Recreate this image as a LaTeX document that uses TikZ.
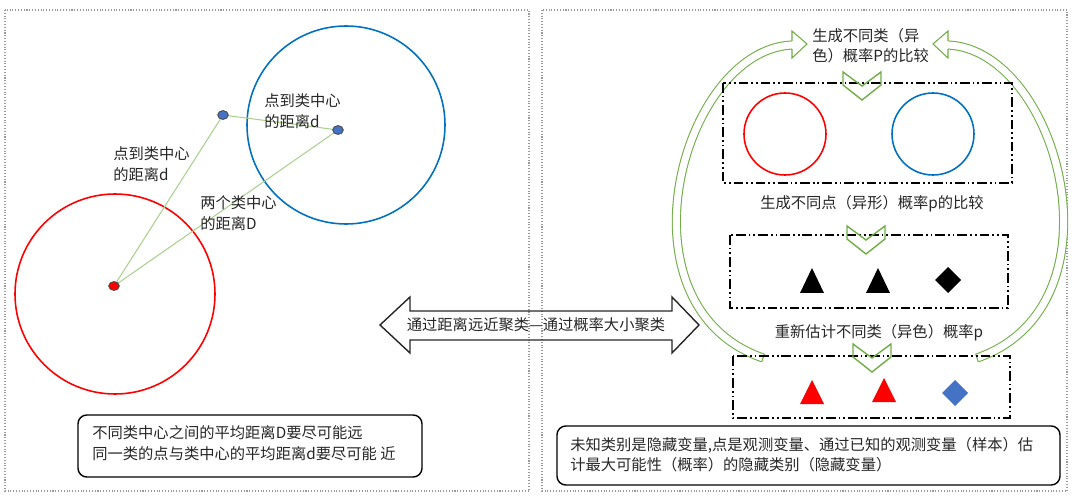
\documentclass[tikz,border=0pt]{standalone}
\usepackage{fontspec}
\setmainfont{Noto Sans CJK SC}
\usepackage{tikz}
\usetikzlibrary{calc,positioning,shapes.geometric}
\definecolor{hongse}{HTML}{FF0000}
\definecolor{lanse}{HTML}{0070C0}
\definecolor{dianlan}{HTML}{4472C4}
\definecolor{qianlv}{HTML}{A9D18E}
\definecolor{lvse}{HTML}{70AD47}
\definecolor{wenzi}{HTML}{262626}

\tikzset{
  panel/.style={draw=gray!80,densely dotted,line width=0.6pt},
  dashbox/.style={draw=black,line width=1pt,
    dash pattern=on 5.5pt off 1.7pt on 1pt off 1.7pt on 1pt off 1.7pt},
  notebox/.style={draw=black,rounded corners=5pt,line width=0.8pt},
  txt/.style={font=\fontsize{8.7}{11.6}\selectfont,text=wenzi,inner sep=0pt,align=left},
  rdot/.style={ellipse,draw=black!70,fill=hongse,line width=0.5pt,
    minimum width=6pt,minimum height=5pt,inner sep=0pt},
  bdot/.style={rdot,fill=dianlan},
  dline/.style={qianlv,line width=0.6pt},
  chev/.style={draw=lvse,line width=0.8pt},
  arcband/.style={draw=lvse,double=white,double distance=4pt,line width=0.6pt},
  arcline/.style={lvse,line width=0.6pt},
  bigarrow/.style={draw=wenzi,line width=0.8pt}
}

\begin{document}
\begin{tikzpicture}[x=0.02cm,y=-0.02cm]
  \useasboundingbox (0,0) rectangle (1080,500);
  % two panels
  \draw[panel] (5,10) rectangle (529,491);
  \draw[panel] (542,10) rectangle (1067,491);

  % left panel: clusters by distance
  \draw[hongse,line width=0.9pt] (115,294) circle (100);
  \draw[lanse,line width=0.9pt] (346,125) circle (99);
  \coordinate (r0) at (114,286);
  \coordinate (b1) at (223,115);
  \coordinate (b2) at (338,130);
  \draw[dline] (r0) -- (b1) -- (b2) -- cycle;
  \node[rdot] (rd) at (r0) {};
  \node[bdot] (bd1) at (b1) {};
  \node[bdot] (bd2) at (b2) {};
  \node[txt,anchor=west] (dL) at (113,164) {点到类中心\\的距离d};
  \node[txt,anchor=west] (dR) at (264,111) {点到类中心\\的距离d};
  \node[txt,anchor=west] (DD) at (200,213) {两个类中心\\的距离D};
  \draw[notebox] (78,415) rectangle (422,477);
  \node[txt,anchor=west] (noteL) at (92,443)
    {不同类中心之间的平均距离D要尽可能远\\同一类的点与类中心的平均距离d要尽可能 近};

  % double arrow in the middle
  \draw[bigarrow] (380,325) -- (410,297) -- (410,311) -- (672,311) -- (672,297)
    -- (699,325) -- (672,353) -- (672,340) -- (410,340) -- (410,353) -- cycle;
  \node[txt] (dir) at (536,325) {通过距离远近聚类—通过概率大小聚类};

  % right panel: curved loop arrows
  \draw[arcband] (763,358) .. controls (613,306) and (681,50) .. (792,45);
  \fill[white] (792,31) -- (807,44) -- (792,58) -- cycle;
  \draw[arcline] (792,41) -- (792,31) -- (807,44) -- (792,58) -- (792,49);
  \draw[arcline] (764.3,354.2) -- (761.7,361.8);
  \draw[arcband] (977,358) .. controls (1127,306) and (1059,50) .. (948,45);
  \fill[white] (948,31) -- (933,44) -- (948,58) -- cycle;
  \draw[arcline] (948,41) -- (948,31) -- (933,44) -- (948,58) -- (948,49);
  \draw[arcline] (975.7,354.2) -- (978.3,361.8);

  % right panel: three steps
  \draw[dashbox] (723,83) rectangle (1012,183);
  \draw[dashbox] (730,235) rectangle (1008,308);
  \draw[dashbox] (733,356) rectangle (1010,418);
  \foreach \cx/\cy in {843/72,847/226,853/344}{
    \draw[chev] (\cx,\cy) -- ++(19,14) -- ++(19,-14) -- ++(0,13)
      -- ++(-19,15) -- ++(-19,-15) -- cycle;
  }
  \node[txt,anchor=west] (title) at (812,46) {生成不同类（异\\色）概率P的比较};
  \draw[hongse,line width=0.9pt] (785,134) circle (41);
  \draw[lanse,line width=0.9pt] (933,134) circle (41);
  \node[txt] (cmp) at (872,204) {生成不同点（异形）概率p的比较};
  \foreach \x in {812,878}{
    \fill[black] ({\x-12},293) -- ({\x+12},293) -- (\x,268) -- cycle;
  }
  \fill[black] (948,267) -- (961,280) -- (948,293) -- (935,280) -- cycle;
  \node[txt] (est) at (879,333) {重新估计不同类（异色）概率p};
  \fill[hongse] (800,404) -- (824,404) -- (812,380) -- cycle;
  \fill[hongse] (872,402) -- (896,402) -- (884,378) -- cycle;
  \fill[dianlan] (955,380) -- (968,393) -- (955,406) -- (942,393) -- cycle;
  \draw[notebox] (557,426) rectangle (1060,485);
  \node[txt,anchor=west] (noteR) at (570,455)
    {未知类别是隐藏变量,点是观测变量、通过已知的观测变量（样本）估\\计最大可能性（概率）的隐藏类别（隐藏变量）};
\end{tikzpicture}
\end{document}
